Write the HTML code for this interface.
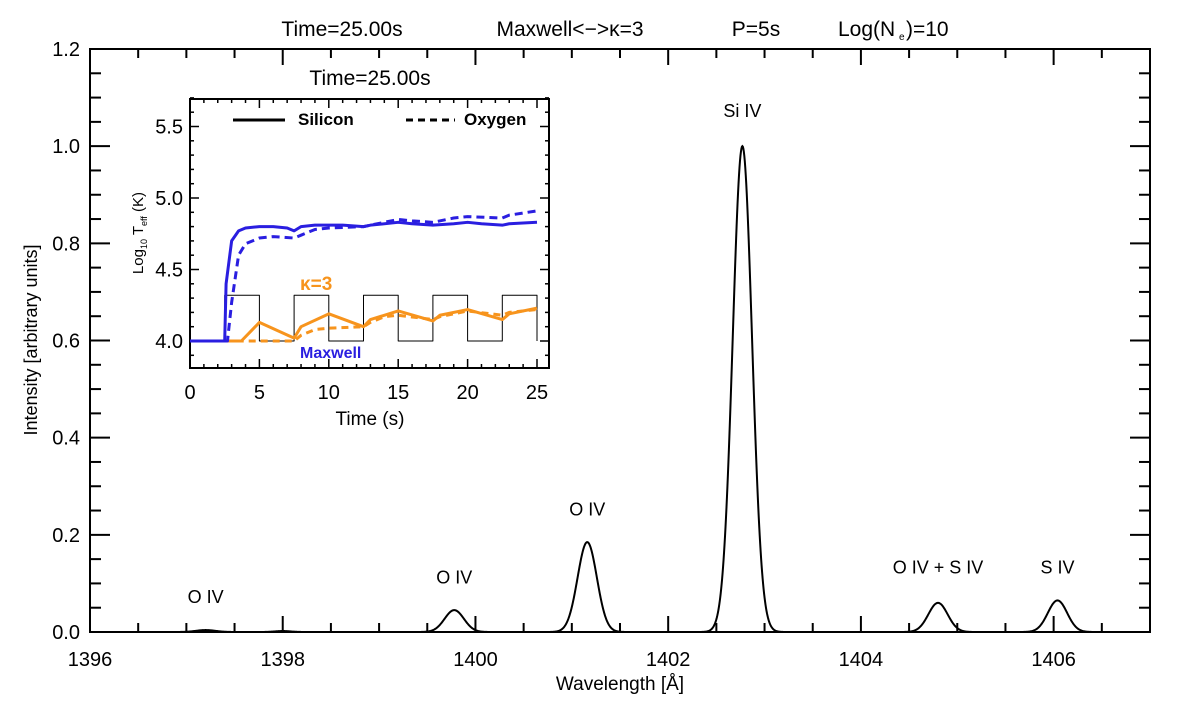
<!DOCTYPE html>
<html><head><meta charset="utf-8"><style>
body{margin:0;background:#fff}
svg text{font-family:"Liberation Sans",sans-serif;fill:#000}
</style></head><body>
<svg id="c" width="1200" height="700" xmlns="http://www.w3.org/2000/svg"></svg>
<script>
// Main spectrum data
const peakCenters=[1397.2,1398.0,1399.78,1401.16,1402.77,1404.8,1406.04];
const peakAmps=[0.004,0.002,0.045,0.185,1.0,0.06,0.065];
const peakSigma=[0.1,0.08,0.1,0.1,0.1,0.1,0.1];
const xTicks=[1396,1398,1400,1402,1404,1406];
const yTicks=[0.0,0.2,0.4,0.6,0.8,1.0,1.2];
const lineLabels=["O IV","O IV","O IV","Si IV","O IV + S IV","S IV"];
const lineLabelX=[1397.2,1399.78,1401.16,1402.77,1404.8,1406.04];
const lineLabelY=[0.06,0.1,0.24,1.06,0.12,0.12];
// Inset data
const tTicks=[0,5,10,15,20,25];
const TTicks=[4.0,4.5,5.0,5.5];
const maxSiT=[0,2.5,2.6,3,3.5,4,5,6,7,7.5,8,9,10,11,12.5,13,15,16,17.5,19,20,21,22.5,23,25];
const maxSiV=[4.0,4.0,4.4,4.7,4.77,4.79,4.8,4.8,4.79,4.77,4.8,4.81,4.81,4.81,4.8,4.81,4.83,4.82,4.81,4.82,4.83,4.82,4.81,4.82,4.83];
const maxOT=[2.5,2.7,3,3.5,4,5,6,7.5,8,9,10,12.5,13,15,16,17.5,19,20,22.5,23,25];
const maxOV=[4.0,4.0,4.27,4.6,4.68,4.72,4.73,4.72,4.74,4.78,4.79,4.8,4.81,4.85,4.84,4.83,4.86,4.87,4.86,4.88,4.91];
const kapSiT=[2.5,3.7,5,7.5,8,10,12.5,13,15,17.5,18,20,22.5,23,25];
const kapSiV=[4.0,4.0,4.13,4.02,4.1,4.19,4.1,4.15,4.21,4.14,4.18,4.22,4.15,4.19,4.23];
const kapOT=[2.5,7.5,8,9,10,12.5,13,14,15,17.5,18,20,22.5,23,25];
const kapOV=[4.0,4.0,4.04,4.08,4.09,4.1,4.13,4.17,4.18,4.15,4.17,4.21,4.18,4.2,4.22];
const pulseT=[0,2.5,2.5,5,5,7.5,7.5,10,10,12.5,12.5,15,15,17.5,17.5,20,20,22.5,22.5,25,25];
const pulseV=[4.0,4.0,4.32,4.32,4.0,4.0,4.32,4.32,4.0,4.0,4.32,4.32,4.0,4.0,4.32,4.32,4.0,4.0,4.32,4.32,4.0];

const svg=document.getElementById('c');
const NS='http://www.w3.org/2000/svg';
function mk(tag,attrs,parent){const e=document.createElementNS(NS,tag);for(const k in attrs)e.setAttribute(k,attrs[k]);(parent||svg).appendChild(e);return e;}
function txt(s,x,y,size,anchor,parent){const t=mk('text',{x:x,y:y,'font-size':size,'text-anchor':anchor||'middle'},parent);t.textContent=s;return t;}

// Main axes
const X0=90,X1=1150,Y0=632,Y1=49;
const xs=v=>X0+(v-1396)/(1407-1396)*(X1-X0);
const ys=v=>Y0-(v/1.2)*(Y0-Y1);

let r=mk('rect',{x:X0,y:Y1,width:X1-X0,height:Y0-Y1,fill:'none',stroke:'#000','stroke-width':2});



for(let v=1396;v<=1407.001;v+=0.5){const maj=Math.abs(v-Math.round(v/2)*2)<1e-6;const L=maj?16:9;
 mk('line',{x1:xs(v),x2:xs(v),y1:Y0,y2:Y0-L,stroke:'#000','stroke-width':2});
 mk('line',{x1:xs(v),x2:xs(v),y1:Y1,y2:Y1+L,stroke:'#000','stroke-width':2});}
for(let i=0;i<=24;i++){const v=i*0.05;const maj=i%4===0;const L=maj?20:11;
 mk('line',{x1:X0,x2:X0+L,y1:ys(v),y2:ys(v),stroke:'#000','stroke-width':2});
 mk('line',{x1:X1,x2:X1-L,y1:ys(v),y2:ys(v),stroke:'#000','stroke-width':2});}
xTicks.forEach(v=>{const t=txt(String(v),xs(v),666,20);
 
 });
yTicks.forEach(v=>{const t=txt(v.toFixed(1),80,ys(v)+7,20,'end');
 
 });

// spectrum curve
let d='';
for(let w=1396;w<=1407;w+=0.005){let I=0;for(let k=0;k<peakCenters.length;k++){I+=peakAmps[k]*Math.exp(-Math.pow(w-peakCenters[k],2)/(2*peakSigma[k]*peakSigma[k]));}
 d+=(d?'L':'M')+xs(w).toFixed(2)+','+ys(I).toFixed(2);}
const sp=mk('path',{d:d,fill:'none',stroke:'#000','stroke-width':2});



lineLabels.forEach((s,i)=>{const t=txt(s,xs(lineLabelX[i]),ys(lineLabelY[i]),18);
 
 });

let ta=txt('Time=25.00s',342,36,21);


let tb=txt('Maxwell<−>κ=3',570,36,21);


let tc=txt('P=5s',756,36,21);


let td=txt('Log(N',838,36,21,'start');


txt('e',899,40,10,'start');
txt(')=10',906,36,21,'start');
let xt=txt('Wavelength  [Å]',620,690,19);


let yt=txt('Intensity [arbitrary units]',0,0,18);
yt.setAttribute('transform','translate(37,340) rotate(-90)');



// Inset
const IX0=190,IX1=549,IY0=368,IY1=99;
const ix=v=>IX0+v*(537-190)/25;
const iy=v=>341-(v-4.0)*143;
const g=mk('g',{});


mk('rect',{x:IX0,y:IY1,width:IX1-IX0,height:IY0-IY1,fill:'#fff',stroke:'#000','stroke-width':2},g);
for(let v=0;v<=25;v++){const L=v%5===0?9:4;
 mk('line',{x1:ix(v),x2:ix(v),y1:IY0,y2:IY0-L,stroke:'#000','stroke-width':1.5},g);
 mk('line',{x1:ix(v),x2:ix(v),y1:IY1,y2:IY1+L,stroke:'#000','stroke-width':1.5},g);}
for(let i=0;i<=18;i++){const v=3.9+i*0.1;const L=(Math.round(v*10)%5===0)?9:4;
 mk('line',{x1:IX0,x2:IX0+L,y1:iy(v),y2:iy(v),stroke:'#000','stroke-width':1.5},g);
 mk('line',{x1:IX1,x2:IX1-L,y1:iy(v),y2:iy(v),stroke:'#000','stroke-width':1.5},g);}
tTicks.forEach(v=>{const t=txt(String(v),ix(v),399,20,'middle',g);
 
 });
TTicks.forEach(v=>{const t=txt(v.toFixed(1),183,iy(v)+7,20,'end',g);
 
 });
let it=txt('Time (s)',370,425,19,'middle',g);


let iyt=mk('text',{x:0,y:0,'font-size':15,'text-anchor':'middle',transform:'translate(143,233) rotate(-90)'},g);
iyt.innerHTML='Log<tspan font-size="9" dy="4">10</tspan><tspan dy="-4"> T</tspan><tspan font-size="9" dy="4">eff</tspan><tspan dy="-4">  (K)</tspan>';


let itl=txt('Time=25.00s',370,85,21,'middle');



function series(T,V,color,dash,w,name){let p='';T.forEach((t,i)=>{p+=(i?'L':'M')+ix(t).toFixed(2)+','+iy(V[i]).toFixed(2);});
 const e=mk('path',{d:p,fill:'none',stroke:color,'stroke-width':w,'stroke-dasharray':dash||'none','stroke-linejoin':'round'},g);
 
 }
series(pulseT,pulseV,'#000',null,1,'pulse-wave');
series(kapOT,kapOV,'#f7941d','7,5',3,'kappa-oxygen-line');
series(kapSiT,kapSiV,'#f7941d',null,3,'kappa-silicon-line');
series(maxOT,maxOV,'#2a1ee0','8,5',3,'maxwell-oxygen-line');
series(maxSiT,maxSiV,'#2a1ee0',null,3,'maxwell-silicon-line');

// legend
mk('line',{x1:233,x2:285,y1:120,y2:120,stroke:'#000','stroke-width':3},g);
let l1=txt('Silicon',298,125,17,'start',g);l1.setAttribute('font-weight','bold');


mk('line',{x1:406,x2:455,y1:120,y2:120,stroke:'#000','stroke-width':3,'stroke-dasharray':'7,5'},g);
let l2=txt('Oxygen',464,125,17,'start',g);l2.setAttribute('font-weight','bold');


let k3=txt('κ=3',300,290,19,'start',g);k3.setAttribute('font-weight','bold');k3.setAttribute('style','fill:#f7941d');


let mx=txt('Maxwell',300,358,16,'start',g);mx.setAttribute('font-weight','bold');mx.setAttribute('style','fill:#2a1ee0');


</script>
</body></html>
